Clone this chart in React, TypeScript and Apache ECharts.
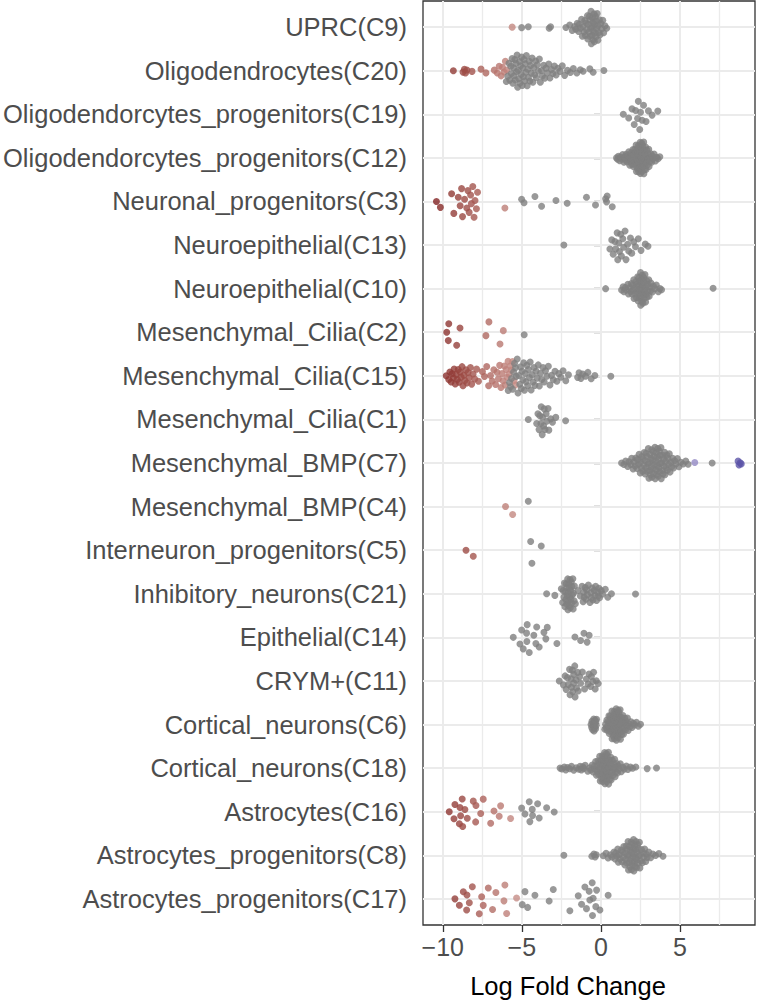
import React, { useEffect, useRef } from "react";
import * as echarts from "echarts";

// categories from bottom (1) to top (21)
const categories = [
  "Astrocytes_progenitors(C17)",
  "Astrocytes_progenitors(C8)",
  "Astrocytes(C16)",
  "Cortical_neurons(C18)",
  "Cortical_neurons(C6)",
  "CRYM+(C11)",
  "Epithelial(C14)",
  "Inhibitory_neurons(C21)",
  "Interneuron_progenitors(C5)",
  "Mesenchymal_BMP(C4)",
  "Mesenchymal_BMP(C7)",
  "Mesenchymal_Cilia(C1)",
  "Mesenchymal_Cilia(C15)",
  "Mesenchymal_Cilia(C2)",
  "Neuroepithelial(C10)",
  "Neuroepithelial(C13)",
  "Neuronal_progenitors(C3)",
  "Oligodendorcytes_progenitors(C12)",
  "Oligodendorcytes_progenitors(C19)",
  "Oligodendrocytes(C20)",
  "UPRC(C9)",
];

// significant (coloured) and non-significant (grey) log fold changes per neighbourhood
const sigC17 = [-9.23, -8.95, -8.7, -8.49, -8.32, -8.47, -8.13, -7.69, -7.54, -7.44, -7.12, -6.85, -6.64, -6.13, -6.07, -5.96, -5.33];
const nsC17 = [-4.97, -4.8, -4.63, -4.17, -3.27, -3.01, -1.96, -1.43, -1.22, -1.01, -0.91, -0.74, -0.7, -0.55, -0.53, -0.49, -0.32, -0.27, -0.06, 0.46];

const sigC8: number[] = [];
const nsC8 = [-2.34, -0.57, -0.44, -0.36, -0.29, 0.15, 0.33, 0.46, 0.61, 0.7, 0.83, 0.9, 0.95, 1.01, 1.07, 1.11, 1.16, 1.21, 1.3, 1.34, 1.38, 1.42, 1.45, 1.52, 1.55, 1.58, 1.62, 1.64, 1.67, 1.7, 1.72, 1.75, 1.78, 1.8, 1.83, 1.85, 1.87, 1.89, 1.92, 1.94, 1.96, 1.98, 2.0, 2.01, 2.04, 2.05, 2.07, 2.09, 2.1, 2.13, 2.15, 2.17, 2.19, 2.21, 2.23, 2.26, 2.28, 2.29, 2.33, 2.35, 2.37, 2.41, 2.44, 2.47, 2.5, 2.53, 2.57, 2.63, 2.69, 2.71, 2.77, 2.84, 2.88, 2.93, 3.03, 3.15, 3.29, 3.46, 3.67, 3.93];

const sigC16 = [-9.59, -9.29, -9.23, -8.95, -8.91, -8.87, -8.77, -8.74, -8.6, -8.45, -8.07, -7.92, -7.9, -7.6, -7.44, -6.97, -6.76, -6.43, -6.34, -5.71];
const nsC16 = [-5.01, -4.8, -4.53, -4.49, -4.34, -4.32, -4.0, -3.9, -3.43, -2.95];

const sigC18: number[] = [];
const nsC18 = [-2.58, -2.46, -2.31, -2.22, -2.11, -1.97, -1.86, -1.71, -1.56, -1.39, -1.31, -1.23, -1.14, -1.08, -0.99, -0.83, -0.71, -0.64, -0.54, -0.49, -0.4, -0.36, -0.33, -0.28, -0.25, -0.21, -0.18, -0.15, -0.12, -0.09, -0.07, -0.04, -0.02, 0.01, 0.03, 0.05, 0.07, 0.09, 0.1, 0.12, 0.14, 0.16, 0.18, 0.19, 0.21, 0.23, 0.24, 0.26, 0.28, 0.29, 0.3, 0.31, 0.33, 0.34, 0.35, 0.37, 0.38, 0.39, 0.41, 0.42, 0.44, 0.46, 0.48, 0.49, 0.51, 0.53, 0.55, 0.56, 0.59, 0.62, 0.63, 0.65, 0.68, 0.71, 0.73, 0.77, 0.81, 0.84, 0.87, 0.9, 0.93, 0.97, 1.01, 1.05, 1.09, 1.14, 1.23, 1.29, 1.4, 1.48, 1.61, 1.71, 1.87, 2.01, 2.21, 2.93, 3.52];

const sigC6: number[] = [];
const nsC6 = [-0.62, -0.58, -0.56, -0.52, -0.5, -0.47, -0.45, -0.43, -0.4, -0.38, -0.36, -0.33, -0.31, -0.29, -0.27, 0.25, 0.3, 0.33, 0.38, 0.4, 0.45, 0.47, 0.51, 0.53, 0.55, 0.59, 0.6, 0.63, 0.66, 0.67, 0.7, 0.71, 0.74, 0.75, 0.78, 0.79, 0.81, 0.83, 0.84, 0.86, 0.88, 0.89, 0.91, 0.92, 0.94, 0.95, 0.97, 0.98, 1.0, 1.01, 1.03, 1.04, 1.06, 1.07, 1.09, 1.1, 1.12, 1.13, 1.15, 1.17, 1.18, 1.2, 1.22, 1.24, 1.26, 1.28, 1.3, 1.32, 1.35, 1.37, 1.4, 1.43, 1.45, 1.49, 1.52, 1.56, 1.59, 1.64, 1.68, 1.73, 1.79, 1.84, 1.91, 1.97, 2.06, 2.14, 2.25, 2.37, 2.51];

const sigC11: number[] = [];
const nsC11 = [-2.63, -2.37, -2.26, -2.2, -2.11, -2.06, -1.98, -1.95, -1.88, -1.86, -1.8, -1.78, -1.72, -1.71, -1.65, -1.63, -1.57, -1.54, -1.47, -1.43, -1.34, -1.28, -1.17, -1.03, -0.92, -0.81, -0.75, -0.65, -0.6, -0.51, -0.46, -0.36, -0.29, -0.17];

const sigC14: number[] = [];
const nsC14 = [-5.54, -5.12, -5.01, -4.91, -4.7, -4.68, -4.66, -4.53, -4.24, -4.11, -4.06, -3.9, -3.6, -3.48, -3.39, -2.78, -1.64, -1.28, -1.07, -0.87, -0.74];

const sigC21: number[] = [];
const nsC21 = [-3.43, -2.91, -2.5, -2.42, -2.38, -2.34, -2.3, -2.27, -2.24, -2.21, -2.19, -2.16, -2.14, -2.12, -2.1, -2.08, -2.06, -2.04, -2.03, -2.01, -1.99, -1.97, -1.95, -1.93, -1.91, -1.89, -1.87, -1.85, -1.83, -1.8, -1.77, -1.75, -1.73, -1.69, -1.67, -1.61, -1.45, -1.3, -1.19, -1.12, -1.09, -1.05, -0.98, -0.94, -0.9, -0.85, -0.79, -0.69, -0.63, -0.6, -0.54, -0.5, -0.42, -0.37, -0.33, -0.27, -0.21, -0.16, -0.12, -0.08, 0.02, 0.11, 0.28, 0.44, 0.67, 2.19];

const sigC5 = [-8.53, -8.07];
const nsC5 = [-4.44, -4.36, -3.77];

const sigC4 = [-6.03, -5.58];
const nsC4 = [-4.59];

const sigC7 = [5.94, 8.68, 8.74, 8.81, 8.88];
const nsC7 = [1.31, 1.46, 1.57, 1.7, 1.78, 1.89, 1.95, 2.04, 2.09, 2.17, 2.21, 2.29, 2.32, 2.39, 2.42, 2.49, 2.51, 2.57, 2.59, 2.65, 2.67, 2.73, 2.74, 2.8, 2.81, 2.86, 2.87, 2.92, 2.93, 2.98, 3.0, 3.04, 3.05, 3.09, 3.11, 3.14, 3.17, 3.19, 3.22, 3.23, 3.27, 3.28, 3.32, 3.33, 3.37, 3.39, 3.42, 3.44, 3.46, 3.49, 3.51, 3.53, 3.56, 3.58, 3.6, 3.63, 3.65, 3.67, 3.7, 3.72, 3.75, 3.77, 3.8, 3.82, 3.85, 3.88, 3.91, 3.94, 3.97, 4.0, 4.03, 4.06, 4.1, 4.13, 4.17, 4.21, 4.25, 4.29, 4.33, 4.38, 4.43, 4.48, 4.54, 4.6, 4.67, 4.75, 4.84, 4.94, 5.06, 5.21, 5.37, 5.52, 7.04];

const sigC1: number[] = [];
const nsC1 = [-4.59, -4.06, -3.98, -3.91, -3.86, -3.79, -3.77, -3.71, -3.69, -3.62, -3.58, -3.53, -3.46, -3.42, -3.34, -3.29, -3.17, -3.06, -2.85, -2.23];

const sigC15 = [-9.78, -9.62, -9.55, -9.47, -9.41, -9.33, -9.28, -9.21, -9.15, -9.08, -9.02, -8.96, -8.9, -8.84, -8.78, -8.72, -8.66, -8.6, -8.53, -8.47, -8.4, -8.33, -8.25, -8.17, -8.08, -7.98, -7.86, -7.74, -7.49, -7.36, -7.22, -7.1, -6.98, -6.87, -6.77, -6.66, -6.57, -6.48, -6.4, -6.32, -6.25, -6.18, -6.11, -6.05, -5.99, -5.93, -5.87, -5.81, -5.74, -5.66, -5.58, -5.49, -5.4];
const nsC15 = [-5.86, -5.78, -5.71, -5.65, -5.58, -5.52, -5.46, -5.4, -5.35, -5.29, -5.24, -5.19, -5.13, -5.08, -5.03, -4.98, -4.93, -4.88, -4.83, -4.78, -4.73, -4.68, -4.63, -4.58, -4.52, -4.47, -4.41, -4.35, -4.29, -4.23, -4.17, -4.1, -4.03, -3.96, -3.89, -3.82, -3.74, -3.66, -3.58, -3.5, -3.41, -3.32, -3.22, -3.12, -3.01, -2.9, -2.78, -2.66, -2.53, -2.39, -2.22, -2.05, -1.47, -1.38, -1.26, -1.15, -0.97, -0.82, -0.61, -0.38, 0.63];

const sigC2 = [-9.75, -9.65, -9.62, -9.12, -8.91, -7.27, -7.08, -6.38, -6.17];
const nsC2 = [-4.85];

const sigC10: number[] = [];
const nsC10 = [0.3, 1.31, 1.41, 1.46, 1.56, 1.61, 1.71, 1.75, 1.84, 1.89, 1.93, 1.97, 2.01, 2.05, 2.08, 2.1, 2.17, 2.19, 2.22, 2.25, 2.29, 2.31, 2.33, 2.36, 2.39, 2.4, 2.42, 2.45, 2.47, 2.48, 2.51, 2.52, 2.54, 2.56, 2.58, 2.59, 2.61, 2.62, 2.63, 2.66, 2.67, 2.7, 2.72, 2.73, 2.74, 2.77, 2.79, 2.83, 2.84, 2.87, 2.9, 2.92, 2.95, 2.98, 3.03, 3.06, 3.1, 3.13, 3.17, 3.26, 3.32, 3.43, 3.51, 3.64, 3.74, 3.84, 7.1];

const sigC13: number[] = [];
const nsC13 = [-2.34, 0.57, 0.69, 0.78, 0.89, 0.94, 1.03, 1.07, 1.14, 1.18, 1.26, 1.3, 1.39, 1.44, 1.53, 1.59, 1.69, 1.76, 1.87, 1.95, 2.08, 2.19, 2.37, 2.54, 2.81, 2.98];

const sigC3 = [-10.4, -10.15, -9.44, -9.3, -9.02, -8.9, -8.81, -8.75, -8.62, -8.48, -8.41, -8.33, -8.24, -8.19, -8.1, -8.02, -7.96, -7.87, -7.8, -6.07];
const nsC3 = [-5.01, -4.86, -4.17, -3.75, -2.84, -2.13, -0.91, -0.34, 0.3, 0.36, 0.4, 0.72];

const sigC12: number[] = [];
const nsC12 = [0.99, 1.06, 1.11, 1.19, 1.25, 1.34, 1.38, 1.46, 1.49, 1.57, 1.6, 1.66, 1.69, 1.75, 1.77, 1.83, 1.84, 1.9, 1.91, 1.96, 1.99, 2.02, 2.03, 2.07, 2.08, 2.12, 2.14, 2.17, 2.18, 2.21, 2.23, 2.25, 2.27, 2.29, 2.31, 2.32, 2.34, 2.36, 2.37, 2.39, 2.4, 2.42, 2.43, 2.45, 2.46, 2.48, 2.49, 2.5, 2.52, 2.53, 2.54, 2.55, 2.57, 2.58, 2.59, 2.61, 2.62, 2.63, 2.65, 2.66, 2.68, 2.69, 2.71, 2.72, 2.74, 2.75, 2.77, 2.78, 2.8, 2.82, 2.83, 2.86, 2.87, 2.9, 2.91, 2.94, 2.97, 2.99, 3.03, 3.05, 3.09, 3.12, 3.17, 3.21, 3.26, 3.31, 3.37, 3.45, 3.53, 3.62, 3.73];

const sigC19: number[] = [];
const nsC19 = [1.42, 1.76, 1.97, 2.11, 2.2, 2.32, 2.37, 2.46, 2.51, 2.61, 2.7, 2.86, 3.01, 3.24, 3.6];

const sigC20 = [-9.33, -8.72, -8.63, -8.56, -8.47, -8.15, -7.58, -7.27, -6.74, -6.55, -6.43, -6.31, -6.22, -6.12, -6.04, -5.95];
const nsC20 = [-5.98, -5.89, -5.81, -5.76, -5.7, -5.66, -5.61, -5.57, -5.52, -5.49, -5.44, -5.41, -5.37, -5.33, -5.3, -5.26, -5.22, -5.19, -5.15, -5.12, -5.08, -5.04, -5.01, -4.97, -4.93, -4.9, -4.86, -4.82, -4.78, -4.74, -4.71, -4.66, -4.62, -4.58, -4.53, -4.49, -4.44, -4.4, -4.35, -4.3, -4.24, -4.19, -4.13, -4.08, -4.02, -3.95, -3.89, -3.83, -3.76, -3.7, -3.62, -3.55, -3.47, -3.39, -3.3, -3.22, -3.12, -3.03, -2.94, -2.83, -2.72, -2.58, -2.44, -2.29, -2.11, -1.93, -1.74, -1.52, -1.3, -1.12, -0.7, -0.49, 0.19];

const sigC9 = [-5.61];
const nsC9 = [-5.01, -4.59, -3.27, -3.18, -2.21, -1.97, -1.81, -1.66, -1.58, -1.49, -1.41, -1.36, -1.29, -1.22, -1.17, -1.13, -1.06, -1.02, -0.98, -0.93, -0.9, -0.85, -0.83, -0.79, -0.76, -0.72, -0.7, -0.67, -0.64, -0.62, -0.6, -0.57, -0.55, -0.52, -0.5, -0.48, -0.46, -0.43, -0.41, -0.39, -0.36, -0.34, -0.31, -0.29, -0.26, -0.23, -0.19, -0.17, -0.13, -0.09, -0.05, 0.0, 0.06, 0.12, 0.18, 0.26, 0.37];

const sigByCategory = [sigC17, sigC8, sigC16, sigC18, sigC6, sigC11, sigC14, sigC21, sigC5, sigC4, sigC7, sigC1, sigC15, sigC2, sigC10, sigC13, sigC3, sigC12, sigC19, sigC20, sigC9];
const nsByCategory = [nsC17, nsC8, nsC16, nsC18, nsC6, nsC11, nsC14, nsC21, nsC5, nsC4, nsC7, nsC1, nsC15, nsC2, nsC10, nsC13, nsC3, nsC12, nsC19, nsC20, nsC9];

const xTicks = [-10, -5, 0, 5];
const xMinorGrid = [-7.5, -2.5, 2.5, 7.5];

// ---------- helpers ----------
function quantile7(sorted: number[], p: number) {
  const h = (sorted.length - 1) * p;
  const lo = Math.floor(h);
  const hi = Math.ceil(h);
  return sorted[lo] + (h - lo) * (sorted[hi] - sorted[lo]);
}
function bwNrd0(x: number[]) {
  const n = x.length;
  const mean = x.reduce((a, b) => a + b, 0) / n;
  const sd = Math.sqrt(x.reduce((a, b) => a + (b - mean) * (b - mean), 0) / (n - 1));
  const s = [...x].sort((a, b) => a - b);
  const iqr = quantile7(s, 0.75) - quantile7(s, 0.25);
  let lo = Math.min(sd, iqr / 1.34);
  if (!(lo > 0)) lo = sd || Math.abs(s[0]) || 1;
  return 0.9 * lo * Math.pow(n, -0.2);
}
function vanDerCorput(n: number) {
  const out: number[] = [];
  for (let i = 1; i <= n; i++) {
    let k = i, denom = 1, v = 0;
    while (k > 0) { denom *= 2; v += (k % 2) / denom; k = Math.floor(k / 2); }
    out.push(v);
  }
  return out;
}
function quasirandomOffsets(values: number[], width: number) {
  const n = values.length;
  if (n <= 1) return values.map(() => 0);
  const bw = bwNrd0(values);
  const dens = (x: number) => {
    let s = 0;
    for (const v of values) { const z = (x - v) / bw; s += Math.exp(-0.5 * z * z); }
    return s;
  };
  const mn = Math.min(...values) - 3 * bw;
  const mx = Math.max(...values) + 3 * bw;
  let maxD = 0;
  for (let i = 0; i < 512; i++) maxD = Math.max(maxD, dens(mn + ((mx - mn) * i) / 511));
  const order = values.map((v, i) => i).sort((a, b) => values[a] - values[b] || a - b);
  const ranks = new Array(n);
  order.forEach((idx, r) => (ranks[idx] = r));
  const vdc = vanDerCorput(n);
  return values.map((v, i) => (vdc[ranks[i]] - 0.5) * 2 * (dens(v) / maxD) * width);
}
function toLab(hex: string) {
  const rgb = [1, 3, 5].map((i) => parseInt(hex.slice(i, i + 2), 16) / 255)
    .map((c) => (c <= 0.04045 ? c / 12.92 : Math.pow((c + 0.055) / 1.055, 2.4)));
  const [r, g, b] = rgb;
  const X = (0.4124564 * r + 0.3575761 * g + 0.1804375 * b) / 0.95047;
  const Y = 0.2126729 * r + 0.7151522 * g + 0.072175 * b;
  const Z = (0.0193339 * r + 0.119192 * g + 0.9503041 * b) / 1.08883;
  const f = (t: number) => (t > 216 / 24389 ? Math.cbrt(t) : ((24389 / 27) * t + 16) / 116);
  const fx = f(X), fy = f(Y), fz = f(Z);
  return [116 * fy - 16, 500 * (fx - fy), 200 * (fy - fz)];
}
function fromLab([L, a, b]: number[]) {
  const fy = (L + 16) / 116, fx = fy + a / 500, fz = fy - b / 200;
  const finv = (t: number) => { const t3 = t * t * t; return t3 > 216 / 24389 ? t3 : (116 * t - 16) / (24389 / 27); };
  const X = finv(fx) * 0.95047, Y = finv(fy), Z = finv(fz) * 1.08883;
  const r = 3.2404542 * X - 1.5371385 * Y - 0.4985314 * Z;
  const g = -0.969266 * X + 1.8760108 * Y + 0.041556 * Z;
  const bb = 0.0556434 * X - 0.2040259 * Y + 1.0572252 * Z;
  const c = (v: number) => {
    v = Math.max(0, Math.min(1, v));
    v = v <= 0.0031308 ? 12.92 * v : 1.055 * Math.pow(v, 1 / 2.4) - 0.055;
    return Math.round(v * 255);
  };
  return `rgb(${c(r)},${c(g)},${c(bb)})`;
}
const LOW = toLab("#832424");
const MID = toLab("#FFFFFF");
const HIGH = toLab("#3A3A98");
function gradient2(v: number, maxAbs: number) {
  const t = v / maxAbs / 2 + 0.5;
  let from, to, f;
  if (t <= 0.5) { from = LOW; to = MID; f = t / 0.5; } else { from = MID; to = HIGH; f = (t - 0.5) / 0.5; }
  return fromLab(from.map((c, i) => c + (to[i] - c) * f));
}

export default function App() {
  const ref = useRef<HTMLDivElement>(null);
  useEffect(() => {
    if (!ref.current) return;
    const chart = echarts.init(ref.current, undefined, { renderer: "svg" });
    const allSig = sigByCategory.flat();
    const maxAbs = Math.max(...allSig.map((v) => Math.abs(v)));
    const points: any[] = [];
    categories.forEach((_, ci) => {
      const sig = sigByCategory[ci];
      const ns = nsByCategory[ci];
      const vals = [...sig, ...ns];
      const offs = quasirandomOffsets(vals, 0.4);
      vals.forEach((v, i) => {
        const isSig = i < sig.length;
        points.push({
          value: [v, ci + 1 + offs[i]],
          itemStyle: { color: isSig ? gradient2(v, maxAbs) : "#7F7F7F" },
        });
      });
    });
    const font = "'Liberation Sans', Arial, Helvetica, sans-serif";
    const gridLines = [
      ...xTicks.map((x) => ({ xAxis: x, lineStyle: { width: 2 } })),
      ...xMinorGrid.map((x) => ({ xAxis: x, lineStyle: { width: 1.3 } })),
      ...categories.map((_, i) => ({ yAxis: i + 1, lineStyle: { width: 2 } })),
    ];
    chart.setOption({
      animation: false,
      backgroundColor: "#FFFFFF",
      grid: {
        left: 423, right: 2, top: 1, bottom: 76,
        show: true, borderColor: "#333333", borderWidth: 1.3, backgroundColor: "transparent",
      },
      xAxis: {
        type: "value", min: -11.25, max: 9.75,
        axisLine: { show: false },
        axisTick: { show: true, customValues: xTicks, length: 7, lineStyle: { color: "#333333", width: 1.3 } },
        axisLabel: {
          customValues: xTicks, margin: 9, color: "#4D4D4D", fontSize: 25, fontFamily: font,
          formatter: (v: number) => (v < 0 ? "\u2212" + Math.abs(v) : String(v)),
        },
        splitLine: { show: false },
      },
      yAxis: {
        type: "value", min: 0.4, max: 21.6,
        axisLine: { show: false },
        axisTick: { show: true, customValues: categories.map((_, i) => i + 1), length: 7, lineStyle: { color: "#333333", width: 1.3 } },
        axisLabel: {
          customValues: categories.map((_, i) => i + 1), margin: 16, color: "#4D4D4D", fontSize: 25.5, fontFamily: font,
          formatter: (v: number) => categories[Math.round(v) - 1] ?? "",
        },
        splitLine: { show: false },
      },
      graphic: [
        {
          type: "text", x: 568, y: 986, z: 10,
          style: { text: "Log Fold Change", fill: "#000000", fontSize: 25.5, fontFamily: font, align: "center", verticalAlign: "middle" },
        },
      ],
      series: [
        {
          type: "scatter", data: [], z: 1, silent: true,
          markLine: {
            z: 1, zlevel: 0,
            silent: true, symbol: ["none", "none"], label: { show: false },
            lineStyle: { color: "#EBEBEB", type: "solid" },
            emphasis: { disabled: true },
            data: gridLines,
          },
        },
        {
          type: "scatter", z: 4, symbol: "circle", symbolSize: 7,
          data: points, silent: true,
        },
      ],
    });
    return () => chart.dispose();
  }, []);
  return <div ref={ref} style={{ position: "absolute", left: 0, top: 0, width: 757, height: 1001 }} />;
}
